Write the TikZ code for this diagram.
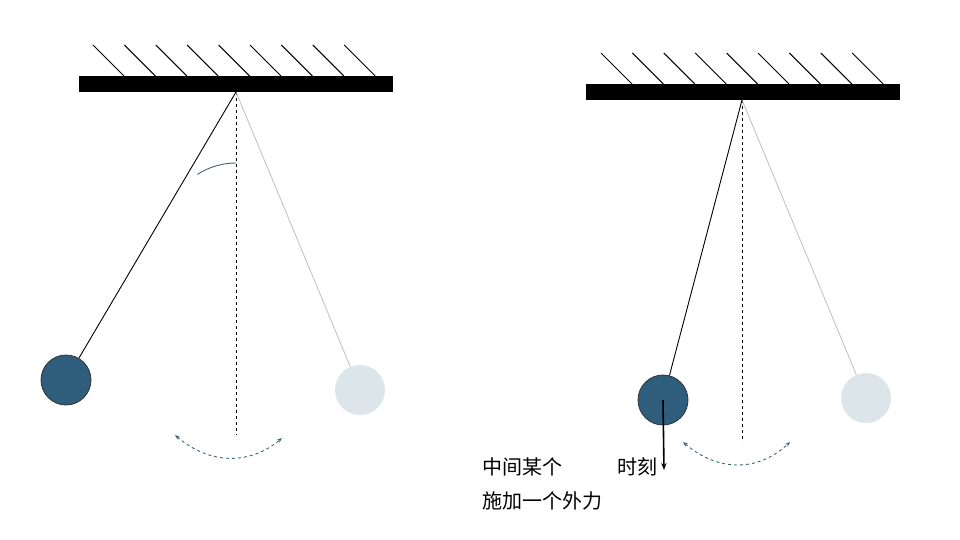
\documentclass[tikz,border=0pt]{standalone}
\usepackage{fontspec}
\newfontfamily\cjk{Noto Sans CJK SC}
\usetikzlibrary{arrows.meta}
\definecolor{bob}{HTML}{2F5D7C}
\definecolor{ghost}{HTML}{DCE5EA}
\definecolor{arcc}{HTML}{3D6473}
\tikzset{x=1pt,y=-1pt,
 bar/.style={fill=black},
 hatch/.style={line width=1pt},
 plumb/.style={dashed,line width=0.9pt},
 strg/.style={line width=0.9pt},
 gstrg/.style={line width=0.8pt,draw=gray!50},
 ball/.style={circle,minimum size=50pt,inner sep=0,fill=bob,draw=black!80,line width=0.8pt},
 gball/.style={circle,minimum size=50pt,inner sep=0,fill=ghost},
 swing/.style={dashed,draw=arcc,line width=0.9pt,{Stealth[length=5pt]}-{Stealth[length=5pt]}},
 lbl/.style={font=\cjk\fontsize{20}{24}\selectfont,anchor=west,inner sep=0}}
\begin{document}
\begin{tikzpicture}
\useasboundingbox (0,0) rectangle (960,540);
% left
\fill[bar] (79,76) rectangle (393,92);
\foreach \i in {0,...,8} \draw[hatch] (93+31.4*\i,45) -- ++(31,31);
\coordinate (p1) at (236,92);
\coordinate (b1) at (236,435);
\draw[plumb] (p1) -- (b1);
\node[gball] (g1) at (360,390) {};
\draw[gstrg] (p1) -- (g1);
\node[ball] (k1) at (66,380) {};
\draw[strg] (p1) -- (k1);
\draw[arcc,line width=0.9pt] (236,163) arc[start angle=270,end angle=237,radius=71];
\coordinate (a1) at (175,435); \coordinate (a2) at (282,438);
\draw[swing] (a1) .. controls (210,465) and (250,465) .. (a2);
% right
\fill[bar] (586,84) rectangle (900,100);
\foreach \i in {0,...,8} \draw[hatch] (601+31.4*\i,53) -- ++(31,31);
\coordinate (p2) at (742,100);
\coordinate (b2) at (742,442);
\draw[plumb] (p2) -- (b2);
\node[gball] (g2) at (866,398) {};
\draw[gstrg] (p2) -- (g2);
\node[ball] (k2) at (663,400) {};
\draw[strg] (p2) -- (k2);
\coordinate (c1) at (683,442); \coordinate (c2) at (790,442);
\draw[swing] (c1) .. controls (718,472) and (758,472) .. (c2);
\coordinate (f) at (664,470);
\draw[line width=1.6pt,-{Stealth[length=7pt]}] (k2.center) -- (f);
\node[lbl] (t1) at (482,467) {中间某个};
\node[lbl] (t2) at (617,467) {时刻};
\node[lbl] (t3) at (482,501) {施加一个外力};
\end{tikzpicture}
\end{document}
